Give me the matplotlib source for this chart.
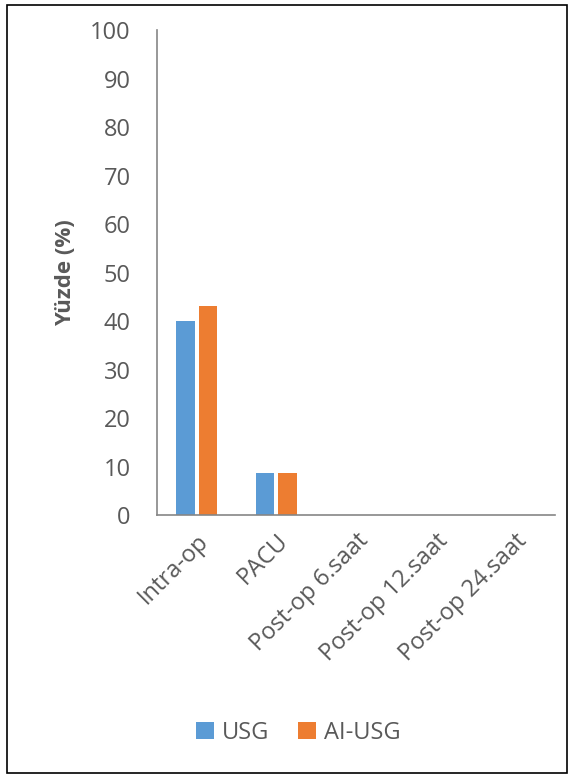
import numpy as np
import matplotlib.pyplot as plt
from matplotlib.patches import Rectangle

# Data
categories = ['Intra-op', 'PACU', 'Post-op 6.saat', 'Post-op 12.saat', 'Post-op 24.saat']
usg = [40, 8.6, 0, 0, 0]
ai_usg = [43, 8.6, 0, 0, 0]

plt.rcParams['font.family'] = ['Open Sans', 'DejaVu Sans']
txt = '#595959'

fig = plt.figure(figsize=(5.74, 7.78), dpi=100)
ax = fig.add_axes([0.2735, 0.338, 0.6935, 0.6234])

x = np.arange(len(categories))
w = 0.23
ax.bar(x - 0.14, usg, w, color='#5B9BD5', label='USG')
ax.bar(x + 0.14, ai_usg, w, color='#ED7D31', label='AI-USG')

ax.set_xlim(-0.5, len(categories) - 0.5)
ax.set_ylim(0, 100)
ax.set_yticks(range(0, 101, 10))
ax.set_xticks(x)
ax.set_xticklabels(categories, rotation=45, ha='right', rotation_mode='anchor', fontsize=17, color=txt)
ax.tick_params(axis='y', labelsize=17, labelcolor=txt, length=0, pad=19)
ax.tick_params(axis='x', length=0, pad=10)
ax.set_ylabel('Yüzde (%)', fontsize=16, fontweight='bold', color=txt, labelpad=10)

for s in ['top', 'right']:
    ax.spines[s].set_visible(False)
for s in ['left', 'bottom']:
    ax.spines[s].set_color('#868686')
    ax.spines[s].set_linewidth(1.2)

fig.legend(loc='center', bbox_to_anchor=(0.52, 0.058), ncol=2, frameon=False,
           fontsize=17, labelcolor=txt, handlelength=0.75, handleheight=0.75,
           handletextpad=0.35, columnspacing=1.2)

# outer border
fig.patches.append(Rectangle((0.012, 0.006), 0.975, 0.988, transform=fig.transFigure,
                             fill=False, edgecolor='black', linewidth=1.2))

fig.savefig('out.png', dpi=100)
